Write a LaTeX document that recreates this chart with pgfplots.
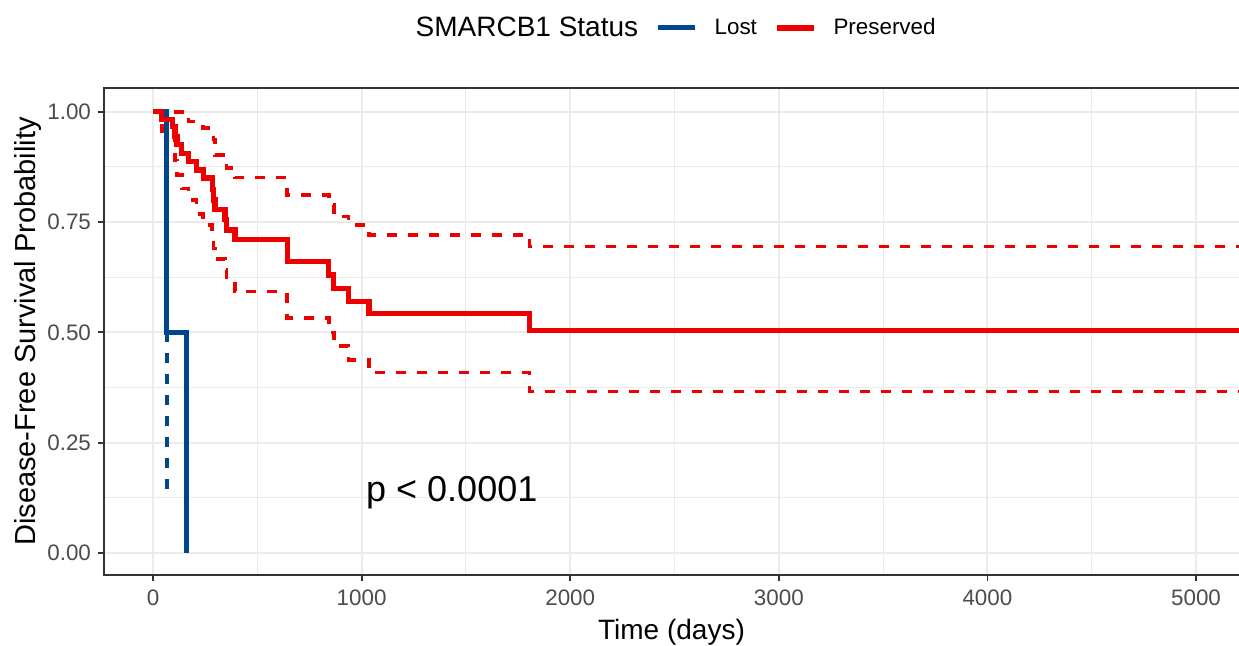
\documentclass[border=0pt]{standalone}
\usepackage{pgfplots}
\pgfplotsset{compat=1.18}
\usepackage{fontspec}
\setmainfont{Liberation Sans}
\definecolor{lostblue}{HTML}{00468B}
\definecolor{presred}{HTML}{ED0000}
\definecolor{gridgray}{HTML}{EBEBEB}
\begin{document}
\begin{tikzpicture}
\useasboundingbox (0,0) rectangle (619.5pt,323pt);
\begin{axis}[
  name=ax,
  at={(52pt,35.5pt)}, anchor=south west,
  scale only axis, width=567.5pt, height=243.5pt,
  xmin=-235, xmax=5206, ymin=-0.05, ymax=1.054,
  axis line style={draw=none},
  xtick={0,1000,2000,3000,4000,5000},
  xticklabels={0,1000,2000,3000,4000,5000},
  ytick={0,0.25,0.5,0.75,1},
  yticklabels={0.00,0.25,0.50,0.75,1.00},
  minor x tick num=1, minor y tick num=1,
  xmajorgrids, ymajorgrids, xminorgrids, yminorgrids,
  major grid style={color=gridgray, line width=1pt},
  minor grid style={color=gridgray, line width=0.5pt},
  tick pos=left, tick align=outside,
  major tick length=3pt, minor tick length=0pt,
  tick style={color=black!80, line width=0.9pt},
  ticklabel style={font=\fontsize{11.2}{13}\selectfont, text=black!70},
  xticklabel style={yshift=-1pt},
  xlabel={Time (days)}, ylabel={Disease-Free Survival Probability},
  every axis x label/.style={at={(axis description cs:0.5,0)}, anchor=center, yshift=-28.5pt, font=\fontsize{14}{16}\selectfont},
  every axis y label/.style={at={(axis description cs:-0.0652,0.5)}, anchor=center, rotate=90, yshift=1pt, font=\fontsize{14.5}{16}\selectfont},
  legend style={at={(axis description cs:0.2591,1.1232)}, anchor=west, draw=none, fill=none,
    inner sep=0pt, legend columns=-1, font=\fontsize{11.2}{13}\selectfont,
    nodes={inner sep=0pt},
    /tikz/every odd column/.append style={column sep=8.6pt},
    /tikz/every even column/.append style={column sep=8.6pt}},
  legend image code/.code={\draw[#1] (0pt,0pt) -- (18.5pt,0pt);},
]
\addlegendimage{empty legend}
\addlegendentry{\fontsize{14}{16}\selectfont SMARCB1 Status}
% Preserved: confidence bands
\addplot[const plot, presred, line width=1.8pt, dash pattern=on 5pt off 5.5pt, forget plot] coordinates {
(0,1.0) (170,0.978) (241,0.963) (289,0.937) (297,0.902) (352,0.872) (393,0.851)
(643,0.812) (843,0.789) (867,0.763) (938,0.744) (1035,0.721) (1805,0.695) (5400,0.695)};
\addplot[const plot, presred, line width=1.8pt, dash pattern=on 5pt off 5.5pt, forget plot] coordinates {
(0,1.0) (42,0.955) (105,0.89) (115,0.857) (138,0.826) (170,0.80) (209,0.769) (241,0.743)
(284,0.717) (289,0.69) (297,0.667) (345,0.642) (352,0.624) (393,0.593) (643,0.532)
(843,0.50) (867,0.469) (938,0.437) (1035,0.409) (1805,0.366) (5400,0.366)};
% Lost: lower band
\addplot[lostblue, line width=1.8pt, dash pattern=on 5pt off 5.5pt, forget plot] coordinates {
(66,0.5) (66,0.124)};
% Lost
\addplot[const plot, lostblue, line width=2.5pt] coordinates {
(0,1.0) (66,0.5) (162,0.0)};
\addlegendentry{Lost}
% Preserved
\addplot[const plot, presred, line width=2.6pt] coordinates {
(0,1.0) (42,0.983) (95,0.966) (105,0.944) (115,0.925) (138,0.906) (170,0.887) (209,0.868)
(241,0.850) (284,0.823) (289,0.800) (297,0.778) (345,0.755) (352,0.732) (393,0.710)
(643,0.661) (843,0.630) (867,0.600) (938,0.570) (1035,0.542) (1805,0.505) (5400,0.505)};
\addlegendentry{Preserved}
\node[anchor=base west, inner sep=0pt, font=\fontsize{18}{21}\selectfont] at (axis cs:1020,0.116) {p < 0.0001};
\end{axis}
\draw[black!80, line width=0.9pt] (ax.north east) -- (ax.north west) -- (ax.south west) -- (ax.south east);
\end{tikzpicture}
\end{document}
